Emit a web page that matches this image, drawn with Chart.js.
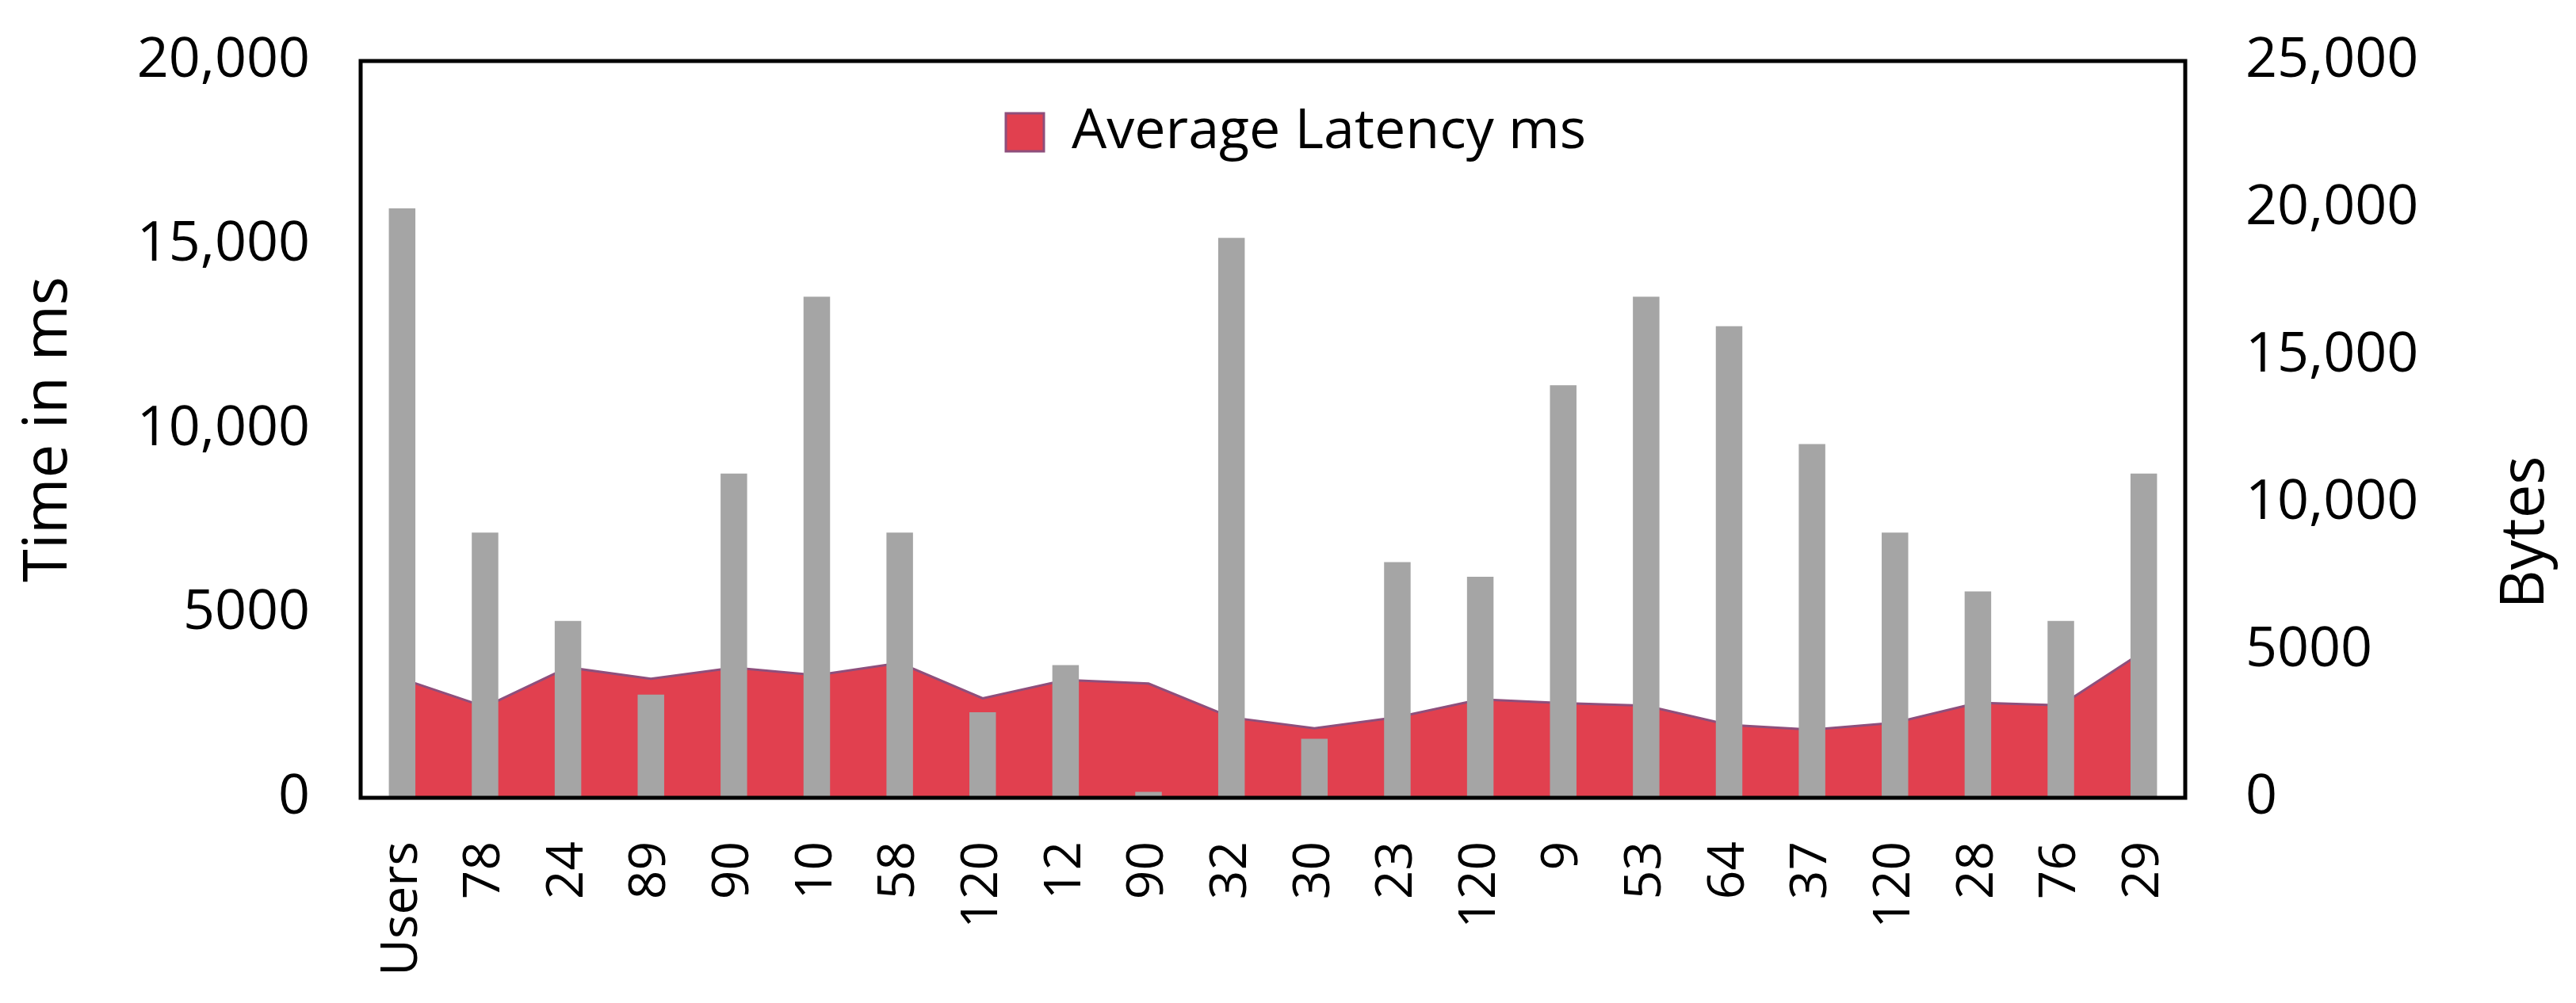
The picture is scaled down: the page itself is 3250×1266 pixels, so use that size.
<!DOCTYPE html>
<html>
<head>
<meta charset="utf-8">
<title>Latency and bytes per user</title>
<script src="https://cdn.jsdelivr.net/npm/chart.js@4.4.1/dist/chart.umd.min.js"></script>
<style>
    html, body { margin: 0; padding: 0; background: #fff; }
    #wrap { width: 3250px; height: 1266px; }
</style>
</head>
<body>
<div id="wrap"><canvas id="latencyChart" width="3250" height="1266"></canvas></div>
<script>
// Data
const users = ['Users', '78', '24', '89', '90', '10', '58', '120', '12', '90', '32',
               '30', '23', '120', '9', '53', '64', '37', '120', '28', '76', '29'];
const avgLatencyMs = [3230, 2470, 3540, 3230, 3530, 3330, 3660, 2700, 3200, 3100, 2180,
                      1890, 2190, 2670, 2570, 2500, 1980, 1850, 2040, 2580, 2510, 3980];
const bytes = [20000, 9000, 6000, 3500, 11000, 17000, 9000, 2900, 4500, 200, 19000,
               2000, 8000, 7500, 14000, 17000, 16000, 12000, 9000, 7000, 6000, 11000];
const leftTicks = [0, 5000, 10000, 15000, 20000];
const rightTicks = [0, 5000, 10000, 15000, 20000, 25000];

const FONT = "'Open Sans', 'Noto Sans', sans-serif";
const TICK_SIZE = 70;
const TITLE_SIZE = 76;

// Excel-style labels: no separator below 10,000
function fmt(v) {
    return v >= 10000 ? v.toLocaleString('en-US') : String(v);
}

// Box round the plot area, legend placed inside it, right-hand axis title
const framePlugin = {
    id: 'frame',
    afterLayout(chart) {
        // legend sits inside the plot, near the top, roughly centred
        const lg = chart.legend;
        lg.left = 1269 - 10;
        lg.top = 132 - 10;
    },
    afterDatasetsDraw(chart) {
        const { ctx, chartArea } = chart;
        ctx.save();
        ctx.strokeStyle = '#000';
        ctx.lineWidth = 5;
        ctx.strokeRect(chartArea.left, chartArea.top,
                       chartArea.right - chartArea.left, chartArea.bottom - chartArea.top);
        ctx.restore();
    },
    afterDraw(chart) {
        const { ctx } = chart;
        ctx.save();
        ctx.translate(3187, 672);
        ctx.rotate(-Math.PI / 2);
        ctx.font = TITLE_SIZE + 'px ' + FONT;
        ctx.fillStyle = '#000';
        ctx.textAlign = 'center';
        ctx.textBaseline = 'middle';
        ctx.fillText('Bytes', 0, 0);
        ctx.restore();
    }
};

// fixed axis sizes; drop the label overhang that would push the plot down
function fixVertical(width) {
    return (s) => {
        s.width = width;
        s.paddingTop = 0;
        s.paddingBottom = 0;
    };
}

function initChart() {
    const ctx = document.getElementById('latencyChart').getContext('2d');
    new Chart(ctx, {
        data: {
            labels: users,
            datasets: [{
                type: 'bar',
                label: 'Bytes',
                data: bytes,
                yAxisID: 'y1',
                backgroundColor: '#A5A5A5',
                borderWidth: 0,
                barPercentage: 0.32,
                categoryPercentage: 1.0,
                order: 0
            }, {
                type: 'line',
                label: 'Average Latency ms',
                data: avgLatencyMs,
                yAxisID: 'y',
                backgroundColor: '#E1404F',
                borderColor: '#8E4F7C',
                borderWidth: 3,
                fill: 'origin',
                tension: 0,
                pointRadius: 0,
                order: 1
            }]
        },
        options: {
            responsive: false,
            maintainAspectRatio: false,
            devicePixelRatio: 1,
            animation: false,
            layout: { padding: { top: 77, left: 0, right: 0, bottom: 0 } },
            plugins: {
                tooltip: { enabled: false },
                legend: {
                    position: 'chartArea',
                    align: 'start',
                    labels: {
                        filter: (item) => item.text === 'Average Latency ms',
                        boxWidth: 48,
                        boxHeight: 48,
                        padding: 10,
                        color: '#000',
                        font: { family: FONT, size: TICK_SIZE }
                    }
                }
            },
            scales: {
                x: {
                    grid: { display: false, drawTicks: false },
                    border: { display: false },
                    ticks: {
                        color: '#000',
                        font: { family: FONT, size: 64 },
                        minRotation: 90,
                        maxRotation: 90,
                        autoSkip: false,
                        padding: 55
                    },
                    afterFit: (s) => { s.height = 259; }
                },
                y: {
                    position: 'left',
                    min: 0,
                    max: 20000,
                    afterBuildTicks: (s) => { s.ticks = leftTicks.map(v => ({ value: v })); },
                    grid: { display: false, drawTicks: false },
                    border: { display: false },
                    ticks: {
                        color: '#000',
                        font: { family: FONT, size: TICK_SIZE },
                        padding: 64,
                        callback: fmt
                    },
                    title: {
                        display: true,
                        text: 'Time in ms',
                        color: '#000',
                        font: { family: FONT, size: TITLE_SIZE },
                        padding: { top: 17, bottom: 0 }
                    },
                    afterFit: fixVertical(455)
                },
                y1: {
                    position: 'right',
                    min: 0,
                    max: 25000,
                    afterBuildTicks: (s) => { s.ticks = rightTicks.map(v => ({ value: v })); },
                    grid: { display: false, drawTicks: false },
                    border: { display: false },
                    ticks: {
                        color: '#000',
                        font: { family: FONT, size: TICK_SIZE },
                        padding: 76,
                        callback: fmt
                    },
                    afterFit: fixVertical(493)
                }
            }
        },
        plugins: [framePlugin]
    });
}

window.addEventListener('load', () => {
    initChart();
});
</script>
</body>
</html>
